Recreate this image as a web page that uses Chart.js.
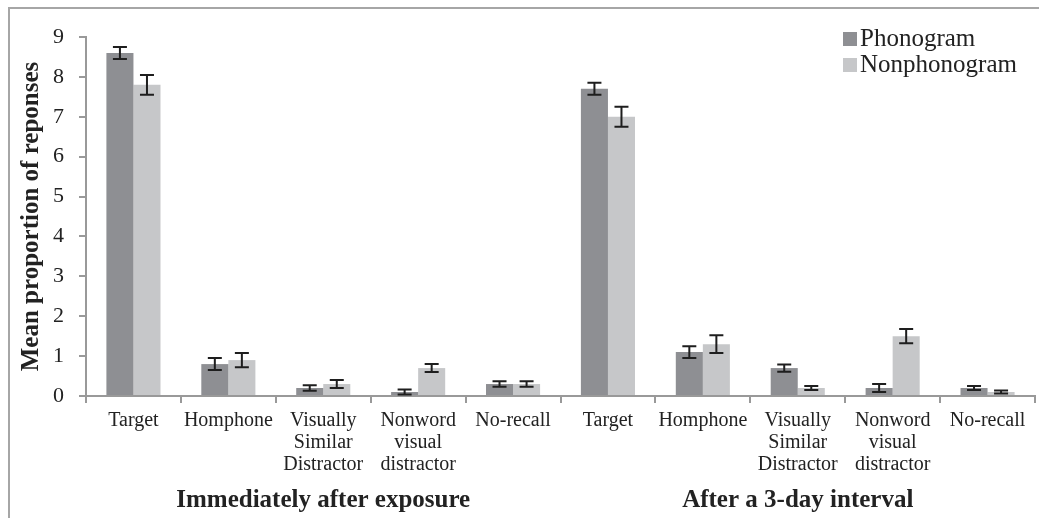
<!DOCTYPE html>
<html>
<head>
<meta charset="utf-8">
<script src="https://cdn.jsdelivr.net/npm/chart.js@4.4.0/dist/chart.umd.min.js"></script>
<style>
  html, body { margin: 0; padding: 0; background: #fff; }
  #wrap { position: relative; width: 1039px; height: 518px; overflow: hidden; }
  #frame { position: absolute; left: 8px; top: 7px; width: 1100px; height: 600px;
           border-top: 2px solid #a6a6a6; border-left: 2px solid #a6a6a6; }
  #chart { position: absolute; left: 0; top: 0; }
  #legend { position: absolute; left: 843px; top: 25px; font-family: "Liberation Serif", serif;
            font-size: 25px; color: #222; line-height: 26px; }
  #legend span.box { display: inline-block; width: 14px; height: 14px; margin-right: 3px; }
</style>
</head>
<body>
<div id="wrap">
  <div id="frame"></div>
  <canvas id="chart" width="1039" height="518"></canvas>
  <div id="legend">
    <div><span class="box" style="background:#8e8f93"></span>Phonogram</div>
    <div><span class="box" style="background:#c6c7c9"></span>Nonphonogram</div>
  </div>
</div>
<script>
const categories = [
  "Target", "Homphone", ["Visually", "Similar", "Distractor"], ["Nonword", "visual", "distractor"], "No-recall",
  "Target", "Homphone", ["Visually", "Similar", "Distractor"], ["Nonword", "visual", "distractor"], "No-recall"
];
const groups = ["Immediately after exposure", "After a 3-day interval"];
const phonogram = [8.6, 0.8, 0.2, 0.1, 0.3, 7.7, 1.1, 0.7, 0.2, 0.2];
const phonogramErr = [0.15, 0.15, 0.07, 0.06, 0.07, 0.15, 0.15, 0.09, 0.1, 0.05];
const nonphonogram = [7.8, 0.9, 0.3, 0.7, 0.3, 7.0, 1.3, 0.2, 1.5, 0.1];
const nonphonogramErr = [0.25, 0.18, 0.1, 0.1, 0.07, 0.25, 0.22, 0.05, 0.18, 0.04];
const yTicks = [0, 1, 2, 3, 4, 5, 6, 7, 8, 9];

const errorBars = {
  id: "errorBars",
  afterDatasetsDraw(chart) {
    const ctx = chart.ctx;
    const y = chart.scales.y;
    ctx.save();
    ctx.strokeStyle = "#1e1e1e";
    ctx.lineWidth = 2;
    chart.data.datasets.forEach((ds, i) => {
      const meta = chart.getDatasetMeta(i);
      meta.data.forEach((bar, j) => {
        const v = ds.data[j], e = ds.errors[j];
        const top = y.getPixelForValue(v + e), bot = y.getPixelForValue(v - e);
        const x = bar.x, w = 7;
        ctx.beginPath();
        ctx.moveTo(x, top); ctx.lineTo(x, bot);
        ctx.moveTo(x - w, top); ctx.lineTo(x + w, top);
        ctx.moveTo(x - w, bot); ctx.lineTo(x + w, bot);
        ctx.stroke();
      });
    });
    ctx.restore();
  }
};

// group titles under each half of the x axis
const groupLabels = {
  id: "groupLabels",
  afterDraw(chart) {
    const ctx = chart.ctx;
    const x = chart.scales.x;
    const per = categories.length / groups.length;
    ctx.save();
    ctx.fillStyle = "#222";
    ctx.font = "bold 25px 'Liberation Serif'";
    ctx.textAlign = "center";
    ctx.textBaseline = "middle";
    groups.forEach((g, i) => {
      const cx = (x.getPixelForValue(i * per) + x.getPixelForValue((i + 1) * per - 1)) / 2;
      ctx.fillText(g, cx, x.bottom + 18);
    });
    ctx.restore();
  }
};

new Chart(document.getElementById("chart"), {
  type: "bar",
  data: {
    labels: categories,
    datasets: [
      { label: "Phonogram", data: phonogram, errors: phonogramErr, backgroundColor: "#8e8f93",
        categoryPercentage: 0.57, barPercentage: 1.0 },
      { label: "Nonphonogram", data: nonphonogram, errors: nonphonogramErr, backgroundColor: "#c6c7c9",
        categoryPercentage: 0.57, barPercentage: 1.0 }
    ]
  },
  plugins: [errorBars, groupLabels],
  options: {
    responsive: false,
    animation: false,
    layout: { padding: { top: 37, right: 4, left: 17, bottom: 35 } },
    plugins: { legend: { display: false }, tooltip: { enabled: false } },
    scales: {
      x: {
        grid: { drawOnChartArea: false, color: "#999", tickLength: 7, lineWidth: 2 },
        border: { color: "#999", width: 2 },
        ticks: { color: "#222", font: { family: "Liberation Serif", size: 20, lineHeight: 1.1 }, maxRotation: 0, autoSkip: false, padding: 7 }
      },
      y: {
        min: 0, max: 9,
        afterBuildTicks: (s) => { s.ticks = yTicks.map(v => ({ value: v })); },
        grid: { drawOnChartArea: false, color: "#999", tickLength: 7, lineWidth: 2 },
        border: { color: "#999", width: 2 },
        ticks: { color: "#222", font: { family: "Liberation Serif", size: 22 }, padding: 15 },
        title: { display: true, text: "Mean proportion of reponses", color: "#222",
                 font: { family: "Liberation Serif", size: 25, weight: "bold" }, padding: { top: 0, bottom: -9 } }
      }
    }
  }
});
</script>
</body>
</html>
